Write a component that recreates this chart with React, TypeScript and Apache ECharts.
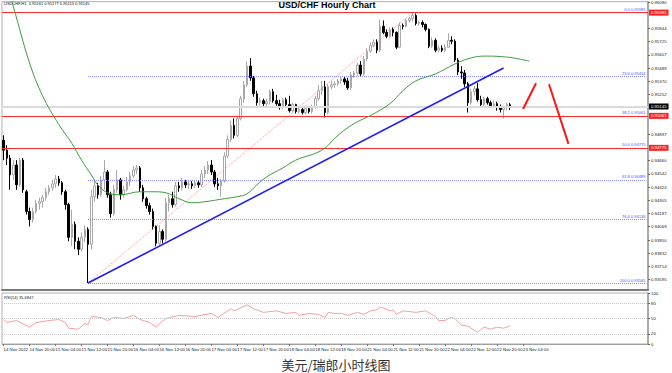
import React, { useEffect, useRef } from "react";
import * as echarts from "echarts";

const FONT = "'Liberation Sans', Arial, sans-serif";

const tickLabels = ["14 Nov 2022","14 Nov 20:00","15 Nov 04:00","15 Nov 12:00","15 Nov 20:00","16 Nov 04:00","16 Nov 12:00","16 Nov 20:00","17 Nov 04:00","17 Nov 12:00","17 Nov 20:00","18 Nov 04:00","18 Nov 12:00","18 Nov 20:00","21 Nov 04:00","21 Nov 12:00","21 Nov 20:00","22 Nov 04:00","22 Nov 12:00","22 Nov 20:00","23 Nov 04:00"];
const barsPerTick = 8;
const slotCount = 199;

const yMin = 0.93503;
const yMax = 0.96083;
// price-scale labels that are not covered by the red / black level tags
const yTicks = [0.96080,0.95844,0.95725,0.95607,0.95489,0.95370,0.95252,0.94897,0.94660,0.94542,0.94424,0.94305,0.94187,0.94069,0.93950,0.93832,0.93714,0.93595];
const rsiTicks = [0, 20, 50, 80, 100];
const rsiGuides = [20, 50, 80];

// [open, close, low, high]
const candles = [
[0.94843,0.94754,0.94665,0.94887],
[0.94754,0.94683,0.94621,0.94798],
[0.94683,0.94533,0.94400,0.94710],
[0.94533,0.94621,0.94488,0.94665],
[0.94621,0.94444,0.94400,0.94665],
[0.94444,0.94665,0.94426,0.94683],
[0.94665,0.94400,0.94373,0.94683],
[0.94382,0.94205,0.94178,0.94400],
[0.94205,0.94134,0.94072,0.94240],
[0.94134,0.94205,0.94107,0.94240],
[0.94205,0.94276,0.94187,0.94311],
[0.94276,0.94293,0.94222,0.94329],
[0.94293,0.94329,0.94240,0.94355],
[0.94329,0.94382,0.94302,0.94417],
[0.94382,0.94417,0.94355,0.94444],
[0.94417,0.94453,0.94391,0.94488],
[0.94453,0.94497,0.94417,0.94533],
[0.94497,0.94462,0.94435,0.94524],
[0.94462,0.94382,0.94355,0.94479],
[0.94382,0.94267,0.94222,0.94400],
[0.94267,0.93974,0.93939,0.94284],
[0.93974,0.94090,0.93895,0.94222],
[0.94090,0.93939,0.93868,0.94116],
[0.93939,0.93868,0.93815,0.93974],
[0.93868,0.93974,0.93850,0.94019],
[0.93974,0.94045,0.93930,0.94081],
[0.94045,0.93912,0.93565,0.94063],
[0.93912,0.94338,0.93868,0.94400],
[0.94338,0.94435,0.94293,0.94488],
[0.94435,0.94355,0.94320,0.94462],
[0.94355,0.94488,0.94338,0.94524],
[0.94488,0.94559,0.94400,0.94665],
[0.94559,0.94355,0.94329,0.94577],
[0.94355,0.94187,0.94151,0.94382],
[0.94187,0.94400,0.94169,0.94444],
[0.94400,0.94488,0.94373,0.94577],
[0.94488,0.94355,0.94311,0.94506],
[0.94355,0.94400,0.94329,0.94435],
[0.94400,0.94470,0.94382,0.94515],
[0.94470,0.94524,0.94435,0.94559],
[0.94524,0.94577,0.94506,0.94612],
[0.94577,0.94595,0.94541,0.94621],
[0.94595,0.94417,0.94382,0.94612],
[0.94417,0.94320,0.94293,0.94444],
[0.94320,0.94258,0.94231,0.94338],
[0.94258,0.94205,0.94178,0.94284],
[0.94205,0.94072,0.94045,0.94231],
[0.94072,0.93921,0.93895,0.94081],
[0.93921,0.94027,0.93903,0.94081],
[0.94027,0.93957,0.93921,0.94045],
[0.93957,0.94284,0.93939,0.94329],
[0.94284,0.94320,0.94205,0.94355],
[0.94320,0.94267,0.94240,0.94382],
[0.94267,0.94435,0.94249,0.94470],
[0.94435,0.94417,0.94382,0.94470],
[0.94417,0.94470,0.94391,0.94506],
[0.94470,0.94444,0.94417,0.94488],
[0.94444,0.94453,0.94408,0.94479],
[0.94453,0.94435,0.94408,0.94479],
[0.94435,0.94462,0.94417,0.94488],
[0.94462,0.94444,0.94417,0.94479],
[0.94444,0.94541,0.94426,0.94577],
[0.94541,0.94577,0.94506,0.94612],
[0.94577,0.94621,0.94541,0.94657],
[0.94621,0.94559,0.94533,0.94665],
[0.94559,0.94453,0.94426,0.94577],
[0.94453,0.94435,0.94400,0.94506],
[0.94435,0.94479,0.94338,0.94497],
[0.94479,0.94701,0.94462,0.94736],
[0.94701,0.94851,0.94683,0.94887],
[0.94851,0.94975,0.94825,0.95020],
[0.94975,0.94887,0.94860,0.95038],
[0.94887,0.95038,0.94869,0.95064],
[0.95038,0.95215,0.95020,0.95241],
[0.95215,0.95339,0.95179,0.95374],
[0.95339,0.95507,0.95321,0.95551],
[0.95507,0.95401,0.95374,0.95578],
[0.95401,0.95259,0.95232,0.95419],
[0.95259,0.95179,0.95153,0.95286],
[0.95179,0.95197,0.95153,0.95224],
[0.95197,0.95170,0.95144,0.95215],
[0.95170,0.95188,0.95144,0.95215],
[0.95188,0.95277,0.95162,0.95294],
[0.95277,0.95197,0.95179,0.95303],
[0.95197,0.95170,0.95153,0.95250],
[0.95170,0.95135,0.95117,0.95206],
[0.95135,0.95206,0.95117,0.95224],
[0.95206,0.95162,0.95135,0.95224],
[0.95162,0.95108,0.95091,0.95241],
[0.95108,0.95162,0.95091,0.95179],
[0.95162,0.95100,0.95082,0.95170],
[0.95100,0.95117,0.95082,0.95144],
[0.95117,0.95091,0.95073,0.95135],
[0.95091,0.95126,0.95073,0.95153],
[0.95126,0.95100,0.95082,0.95144],
[0.95100,0.95144,0.95082,0.95162],
[0.95144,0.95215,0.95126,0.95241],
[0.95215,0.95286,0.95197,0.95339],
[0.95286,0.95321,0.95250,0.95374],
[0.95321,0.95091,0.95046,0.95374],
[0.95091,0.95321,0.95073,0.95348],
[0.95321,0.95339,0.95303,0.95374],
[0.95339,0.95348,0.95312,0.95374],
[0.95348,0.95374,0.95330,0.95392],
[0.95374,0.95392,0.95348,0.95419],
[0.95392,0.95365,0.95339,0.95410],
[0.95374,0.95312,0.95294,0.95401],
[0.95312,0.95427,0.95294,0.95454],
[0.95427,0.95445,0.95401,0.95463],
[0.95445,0.95516,0.95419,0.95534],
[0.95516,0.95436,0.95410,0.95551],
[0.95436,0.95569,0.95419,0.95596],
[0.95569,0.95640,0.95551,0.95667],
[0.95640,0.95693,0.95622,0.95720],
[0.95693,0.95720,0.95675,0.95746],
[0.95720,0.95649,0.95622,0.95746],
[0.95649,0.95862,0.95631,0.95924],
[0.95862,0.95808,0.95791,0.95915],
[0.95808,0.95773,0.95755,0.95835],
[0.95773,0.95835,0.95755,0.95853],
[0.95835,0.95808,0.95773,0.95853],
[0.95808,0.95675,0.95658,0.95817],
[0.95675,0.95870,0.95667,0.95897],
[0.95870,0.95862,0.95835,0.95888],
[0.95862,0.95915,0.95853,0.95932],
[0.95915,0.95932,0.95897,0.95950],
[0.95932,0.95959,0.95906,0.95985],
[0.95959,0.95888,0.95870,0.95977],
[0.95888,0.95897,0.95870,0.95915],
[0.95897,0.95879,0.95853,0.95915],
[0.95879,0.95835,0.95817,0.95888],
[0.95835,0.95684,0.95667,0.95844],
[0.95684,0.95737,0.95667,0.95764],
[0.95737,0.95649,0.95631,0.95755],
[0.95649,0.95667,0.95631,0.95693],
[0.95667,0.95649,0.95631,0.95693],
[0.95649,0.95675,0.95631,0.95702],
[0.95675,0.95737,0.95667,0.95800],
[0.95737,0.95729,0.95702,0.95773],
[0.95729,0.95560,0.95543,0.95746],
[0.95560,0.95454,0.95427,0.95578],
[0.95454,0.95445,0.95392,0.95507],
[0.95445,0.95348,0.95321,0.95472],
[0.95348,0.95179,0.95091,0.95365],
[0.95179,0.95277,0.95162,0.95303],
[0.95277,0.95303,0.95241,0.95330],
[0.95303,0.95206,0.95188,0.95357],
[0.95206,0.95162,0.95144,0.95241],
[0.95162,0.95215,0.95144,0.95232],
[0.95215,0.95179,0.95162,0.95232],
[0.95179,0.95153,0.95135,0.95197],
[0.95153,0.95170,0.95135,0.95197],
[0.95170,0.95135,0.95108,0.95188],
[0.95135,0.95117,0.95091,0.95162],
[0.95117,0.95135,0.95038,0.95153],
[0.95135,0.95162,0.95108,0.95179],
[0.95161,0.95145,0.95113,0.95177],
];

// moving average (shifted): [bar index, price]
const maPoints = [[0,0.96340],[3,0.96039],[8,0.95534],[12,0.95241],[17,0.94984],[21,0.94816],[24,0.94665],[27,0.94533],[29,0.94444],[32,0.94373],[36,0.94355],[42,0.94382],[46,0.94382],[50,0.94373],[54,0.94320],[58,0.94284],[62,0.94293],[68,0.94320],[72,0.94338],[75,0.94364],[78,0.94444],[81,0.94515],[86,0.94595],[90,0.94665],[98,0.94754],[103,0.94887],[108,0.94993],[113,0.95064],[119,0.95170],[123,0.95286],[127,0.95374],[133,0.95436],[139,0.95525],[145,0.95587],[149,0.95596],[155,0.95587],[159,0.95569],[162,0.95551]];

const rsiPoints = [[0,48],[1,42],[4,46],[8,33],[10,42],[14,46],[17,48],[19,42],[20,31],[23,29],[25,40],[26,38],[27,54],[30,52],[32,46],[34,52],[37,50],[40,56],[42,48],[45,42],[47,33],[48,40],[50,50],[54,56],[59,54],[64,60],[66,52],[70,69],[71,65],[75,77],[77,69],[80,62],[84,65],[87,60],[90,62],[91,56],[94,60],[97,58],[99,52],[100,62],[102,60],[104,60],[106,56],[109,62],[111,58],[113,65],[115,67],[116,73],[119,65],[120,67],[121,58],[123,65],[127,62],[130,65],[133,54],[134,46],[136,46],[137,50],[138,52],[139,50],[141,37],[143,35],[145,27],[146,23],[148,33],[150,29],[152,33],[154,31],[156,35.68]];

const trendLine = [[26, 0.93565], [154, 0.95489]];
const fibDiagonal = [[26, 0.93565], [126, 0.95985]];
const arrowUp = [[160, 0.95122], [164, 0.95353]];
const arrowDown = [[168, 0.95344], [174, 0.94811]];

const fibStart = 26;
const fibRatios = ["0.0", "23.6", "38.2", "50.0", "61.8", "76.4", "100.0"];
const fibLevels = [0.95985, 0.95414, 0.95061, 0.94775, 0.94489, 0.94136, 0.93565];
const redLevels = [0.95985, 0.95061, 0.94775];
const lastPrice = 0.95145;

const headerText = "USDCHF,H1  0.95161 0.95177 0.95113 0.95145";
const titleText = "USD/CHF Hourly Chart";
const rsiText = "RSI(14) 35.6847";
const captionText = "美元/瑞郎小时线图";

const categories = Array.from({ length: slotCount }, (_, i) => String(i));
const showTick = (i: number) => i % barsPerTick === 0 && i / barsPerTick < tickLabels.length;

function buildOption() {
  const axisLabelBase = { fontSize: 4.3, color: "#222", fontFamily: FONT };
  const underLines: any[] = [];
  const fibLines: any[] = [];
  const redLines: any[] = [];
  underLines.push({
    yAxis: lastPrice,
    lineStyle: { color: "#dadada", width: 2, type: "solid" },
    label: {
      show: true,
      position: "end",
      formatter: lastPrice.toFixed(5),
      backgroundColor: "#000",
      color: "#fff",
      fontSize: 4.3,
      fontFamily: FONT,
      padding: [1, 2],
      distance: 1,
    },
  });
  fibLevels.forEach((v, k) => {
    fibLines.push([
      {
        coord: [fibStart, v],
        lineStyle: { color: "#8a8aff", width: 1, type: "dotted" },
        label: {
          show: true,
          position: "insideEndTop",
          formatter: `${fibRatios[k]} ${v.toFixed(5)}`,
          color: "#4a4aff",
          fontSize: 4,
          fontFamily: FONT,
          distance: 1,
        },
      },
      { coord: [slotCount - 1, v] },
    ]);
  });
  redLevels.forEach((v) => {
    redLines.push({
      yAxis: v,
      lineStyle: { color: "#ff2a2a", width: 1, type: "solid" },
      label: {
        show: true,
        position: "end",
        formatter: v.toFixed(5),
        backgroundColor: "#ff2020",
        color: "#fff",
        fontSize: 4.3,
        fontFamily: FONT,
        padding: [1, 2],
        distance: 1,
      },
    });
  });

  return {
    animation: false,
    backgroundColor: "#ffffff",
    grid: [
      { left: 2, right: 24, top: 0, height: 290, show: true, borderColor: "#b0b0b0", borderWidth: 1 },
      { left: 2, right: 24, top: 293, height: 51, show: true, borderColor: "#b0b0b0", borderWidth: 1 },
    ],
    xAxis: [
      {
        gridIndex: 0,
        type: "category",
        data: categories,
        boundaryGap: true,
        axisLine: { show: true, onZero: false, lineStyle: { color: "#7a7a7a", width: 2 } },
        axisTick: { show: false },
        axisLabel: { show: false },
        splitLine: { show: false },
      },
      {
        gridIndex: 1,
        type: "category",
        data: categories,
        boundaryGap: true,
        axisLine: { show: true, onZero: false, lineStyle: { color: "#a0a0a0", width: 1 } },
        axisTick: { show: true, interval: (i: number) => showTick(i), length: 2, lineStyle: { color: "#777" }, alignWithLabel: true },
        axisLabel: {
          ...axisLabelBase,
          interval: (i: number) => showTick(i),
          formatter: (_v: string, i: number) => tickLabels[i / barsPerTick] ?? "",
          align: "left",
          margin: 3,
        },
        splitLine: { show: false },
      },
    ],
    yAxis: [
      {
        gridIndex: 0,
        type: "value",
        position: "right",
        min: yMin,
        max: yMax,
        axisLine: { show: true, lineStyle: { color: "#9a9a9a", width: 1.5 } },
        axisTick: { show: true, length: 2, customValues: yTicks, lineStyle: { color: "#666" } },
        axisLabel: { ...axisLabelBase, customValues: yTicks, formatter: (v: number) => v.toFixed(5), margin: 3 },
        splitLine: { show: false },
      },
      {
        gridIndex: 1,
        type: "value",
        position: "right",
        min: 0,
        max: 100,
        axisLine: { show: true, lineStyle: { color: "#9a9a9a", width: 1.5 } },
        axisTick: { show: true, length: 2, customValues: rsiTicks, lineStyle: { color: "#666" } },
        axisLabel: { ...axisLabelBase, customValues: rsiTicks, margin: 3 },
        splitLine: { show: false },
      },
    ],
    series: [
      {
        type: "line",
        xAxisIndex: 0,
        yAxisIndex: 0,
        data: [],
        z: 1,
        silent: true,
        markLine: { symbol: ["none", "none"], silent: true, animation: false, precision: 5, data: underLines },
      },
      {
        type: "candlestick",
        xAxisIndex: 0,
        yAxisIndex: 0,
        data: candles,
        barWidth: 2,
        z: 3,
        itemStyle: {
          color: "#ffffff",
          color0: "#000000",
          borderColor: "#a8a8a8",
          borderColor0: "#000000",
          borderWidth: 1,
        },
      },
      {
        type: "line",
        xAxisIndex: 0,
        yAxisIndex: 0,
        data: [],
        z: 4,
        silent: true,
        markLine: { symbol: ["none", "none"], silent: true, animation: false, precision: 5, data: fibLines },
      },
      {
        type: "line",
        xAxisIndex: 0,
        yAxisIndex: 0,
        data: [],
        z: 5,
        silent: true,
        markLine: { symbol: ["none", "none"], silent: true, animation: false, precision: 5, data: redLines },
      },
      {
        type: "line",
        xAxisIndex: 0,
        yAxisIndex: 0,
        data: fibDiagonal,
        symbol: "none",
        z: 2,
        lineStyle: { color: "#ff8f8f", width: 1, type: "dotted" },
      },
      {
        type: "line",
        xAxisIndex: 0,
        yAxisIndex: 0,
        data: maPoints,
        symbol: "none",
        smooth: 0.4,
        z: 6,
        lineStyle: { color: "#3c9c3c", width: 1 },
      },
      {
        type: "line",
        xAxisIndex: 0,
        yAxisIndex: 0,
        data: trendLine,
        symbol: "none",
        z: 7,
        lineStyle: { color: "#1e1ef0", width: 1.6 },
      },
      {
        type: "line",
        xAxisIndex: 0,
        yAxisIndex: 0,
        data: arrowUp,
        symbol: "none",
        z: 7,
        lineStyle: { color: "#ff1414", width: 2 },
      },
      {
        type: "line",
        xAxisIndex: 0,
        yAxisIndex: 0,
        data: arrowDown,
        symbol: "none",
        z: 7,
        lineStyle: { color: "#ff1414", width: 2 },
      },
      {
        type: "line",
        xAxisIndex: 1,
        yAxisIndex: 1,
        data: rsiPoints,
        symbol: "none",
        z: 3,
        lineStyle: { color: "#f5a0a0", width: 1 },
        markLine: {
          symbol: ["none", "none"],
          silent: true,
          precision: 2,
          label: { show: false },
          lineStyle: { color: "#c8c8c8", width: 1, type: "dotted" },
          data: rsiGuides.map((v) => ({ yAxis: v })),
        },
      },
    ],
    graphic: [
      {
        type: "text",
        x: 4,
        y: 3,
        style: { text: headerText, fontSize: 4, fontFamily: FONT, fill: "#111", verticalAlign: "middle", textVerticalAlign: "middle" },
      },
      {
        type: "text",
        x: 327,
        y: 5,
        style: {
          text: titleText,
          fontSize: 9,
          fontWeight: "bold",
          fontFamily: FONT,
          fill: "#000",
          align: "center",
          textAlign: "center",
          verticalAlign: "middle",
          textVerticalAlign: "middle",
        },
      },
      {
        type: "text",
        x: 4,
        y: 297,
        style: { text: rsiText, fontSize: 4, fontFamily: FONT, fill: "#111", verticalAlign: "middle", textVerticalAlign: "middle" },
      },
      {
        type: "text",
        x: 336,
        y: 364,
        style: {
          text: captionText,
          fontSize: 13,
          fontFamily: "'Noto Sans CJK SC', sans-serif",
          fill: "#333",
          align: "center",
          textAlign: "center",
          verticalAlign: "middle",
          textVerticalAlign: "middle",
        },
      },
    ],
  };
}

export default function App() {
  const ref = useRef<HTMLDivElement>(null);
  useEffect(() => {
    if (!ref.current) return;
    const chart = echarts.init(ref.current, null, { renderer: "svg" });
    chart.setOption(buildOption() as any);
    return () => chart.dispose();
  }, []);
  return (
    <div
      ref={ref}
      style={{ position: "fixed", left: 0, top: 0, width: 672, height: 373, background: "#fff" }}
    />
  );
}
